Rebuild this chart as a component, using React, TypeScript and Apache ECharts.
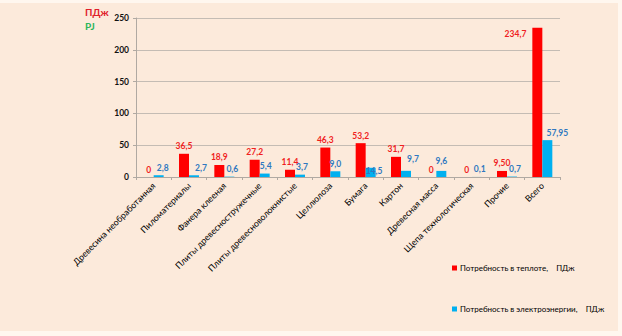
import React, { useEffect, useRef } from "react";
import * as echarts from "echarts";

const categories = [
  "Древесина необработанная",
  "Пиломатериалы",
  "Фанера клееная",
  "Плиты древесностружечные",
  "Плиты древесноволокнистые",
  "Целлюлоза",
  "Бумага",
  "Картон",
  "Древесная масса",
  "Щепа технологическая",
  "Прочие",
  "Всего",
];
const heatValues = [0, 36.5, 18.9, 27.2, 11.4, 46.3, 53.2, 31.7, 0, 0, 9.5, 234.7];
const heatLabels = ["0", "36,5", "18,9", "27,2", "11,4", "46,3", "53,2", "31,7", "0", "0", "9,50", "234,7"];
const elecValues = [2.8, 2.7, 0.6, 5.4, 3.7, 9.0, 14.5, 9.7, 9.6, 0.1, 0.7, 57.95];
const elecLabels = ["2,8", "2,7", "0,6", "5,4", "3,7", "9,0", "14,5", "9,7", "9,6", "0,1", "0,7", "57,95"];
const yTicks = { min: 0, max: 250, interval: 50 };
const SP = "\u00a0".repeat(3);
const heatName = `Потребность в теплоте,${SP} ПДж`;
const elecName = `Потребность в электроэнергии,${SP} ПДж`;

// label nudges (style only)
const elecLabelNudge: [number, number][] = [
  [4, 0], [7, 0], [3, 0], [1, 0], [2, 0], [0, 0], [0, 0], [7, -4], [0, -2], [3, 0], [3, 0], [10, 0],
];

const FONT = "Lato, 'Liberation Sans', sans-serif";

export default function App() {
  const ref = useRef<HTMLDivElement>(null);
  useEffect(() => {
    if (!ref.current) return;
    const chart = echarts.init(ref.current, undefined, { renderer: "svg" });
    const heatData = heatValues.map((v, i) => {
      const item: any = { value: v };
      if (i === heatValues.length - 1) {
        item.label = { position: [-6, 6], align: "right", verticalAlign: "middle" };
      }
      return item;
    });
    const elecData = elecValues.map((v, i) => {
      const item: any = { value: v, label: { offset: elecLabelNudge[i] } };
      if (elecLabels[i] === "14,5") {
        item.label = { position: [0, 3], align: "left", verticalAlign: "middle" };
      }
      return item;
    });
    chart.setOption({
      animation: false,
      backgroundColor: "transparent",
      textStyle: { fontFamily: FONT },
      grid: { left: 136, right: 62, top: 18, bottom: 159, containLabel: false },
      graphic: [
        {
          type: "text",
          left: 85,
          top: 7,
          style: { text: "ПДж", fill: "#E0202A", font: `bold 10px ${FONT}` },
        },
        {
          type: "text",
          left: 85,
          top: 21,
          style: { text: "PJ", fill: "#2BB55A", font: `bold 10px ${FONT}` },
        },
      ],
      legend: {
        orient: "vertical",
        left: 447,
        top: 259,
        itemGap: 33,
        itemWidth: 5,
        itemHeight: 5,
        icon: "rect",
        textStyle: { fontSize: 8, color: "#000", padding: [0, 0, 0, -2], fontFamily: FONT },
        data: [heatName, elecName],
      },
      xAxis: {
        type: "category",
        data: categories,
        axisLine: { lineStyle: { color: "#B0A9A2", width: 1 } },
        axisTick: { show: true, length: 3, lineStyle: { color: "#B0A9A2" } },
        axisLabel: {
          interval: 0,
          rotate: 45,
          fontSize: 8.8,
          color: "#000",
          margin: 7,
          fontFamily: FONT,
        },
      },
      yAxis: {
        type: "value",
        min: yTicks.min,
        max: yTicks.max,
        interval: yTicks.interval,
        axisLine: { show: true, lineStyle: { color: "#B0A9A2", width: 1 } },
        axisTick: { show: true, length: 3, lineStyle: { color: "#B0A9A2" } },
        axisLabel: { fontSize: 8.5, fontWeight: "bold", color: "#111", margin: 7, fontFamily: FONT },
        splitLine: { lineStyle: { color: "#C4BCB4", width: 1 } },
      },
      series: [
        {
          name: heatName,
          type: "bar",
          data: heatData,
          barWidth: 10,
          barGap: "0%",
          itemStyle: { color: "#FF0000" },
          label: {
            show: true,
            position: "top",
            distance: 3,
            color: "#F01E1E",
            fontSize: 8.5,
            fontWeight: "bold",
            fontFamily: FONT,
            formatter: (p: any) => heatLabels[p.dataIndex],
          },
        },
        {
          name: elecName,
          type: "bar",
          data: elecData,
          barWidth: 10,
          barGap: "0%",
          itemStyle: { color: "#00B0F0" },
          label: {
            show: true,
            position: "top",
            distance: 3,
            color: "#2F78C0",
            fontSize: 8.5,
            fontWeight: "bold",
            fontFamily: FONT,
            formatter: (p: any) => elecLabels[p.dataIndex],
          },
        },
      ],
    });
    return () => chart.dispose();
  }, []);

  return (
    <div style={{ position: "fixed", left: 0, top: 0, width: 622, height: 336, background: "#FFF7EF" }}>
      <div style={{ position: "absolute", left: 0, top: 3, width: 618, height: 328, background: "#FCEADB" }} />
      <div ref={ref} style={{ position: "absolute", left: 0, top: 0, width: 622, height: 336 }} />
    </div>
  );
}
